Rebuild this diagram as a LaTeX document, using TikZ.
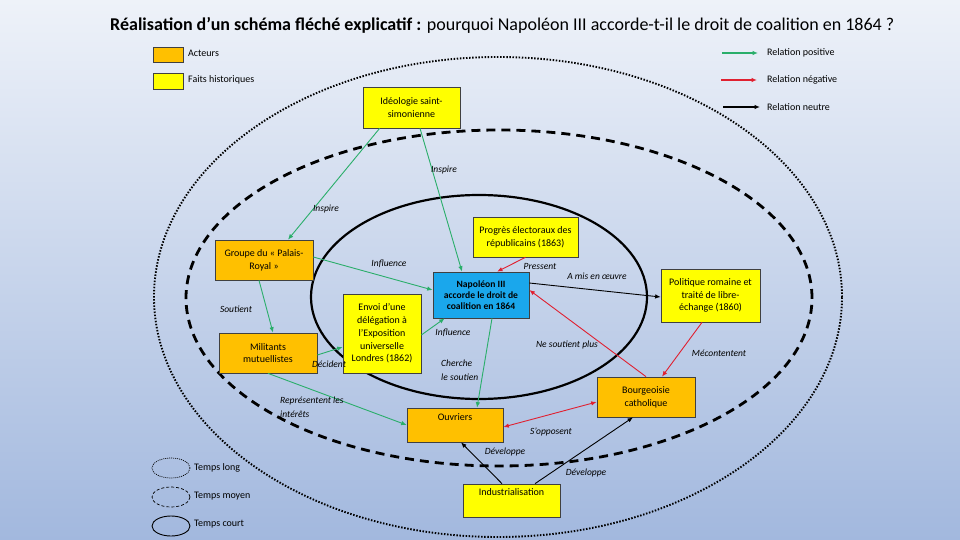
\documentclass[tikz,border=0pt]{standalone}
\usepackage{fontspec}
\setmainfont{Carlito}
\usetikzlibrary{arrows.meta,shapes.geometric}
\definecolor{bgtop}{HTML}{EEF2F9}
\definecolor{bgbot}{HTML}{A2B8DE}
\definecolor{orng}{HTML}{FFC000}
\definecolor{yel}{HTML}{FFFF00}
\definecolor{blu}{HTML}{1AA7EC}
\definecolor{grn}{HTML}{2AAE6A}
\definecolor{rd}{HTML}{E02030}
\begin{document}
\begin{tikzpicture}[x=1pt,y=-1pt,
  box/.style={draw=black!75, line width=0.7pt, align=center, inner sep=1pt,
    font=\fontsize{10}{12.8}\selectfont},
  actor/.style={box, fill=orng},
  fact/.style={box, fill=yel},
  lbl/.style={font=\fontsize{9.5}{14}\selectfont\itshape, inner sep=0pt},
  lgtxt/.style={font=\fontsize{10}{11}\selectfont, inner sep=0pt, anchor=west},
  tipend/.style={-{Latex[length=5.5pt,width=4.5pt]}},
  posarr/.style={draw=grn, line width=0.9pt, tipend},
  negarr/.style={draw=rd, line width=0.9pt, tipend},
  neuarr/.style={draw=black, line width=0.9pt, tipend},
]
\useasboundingbox (0,0) rectangle (960,540);
\shade[top color=bgtop, bottom color=bgbot] (0,0) rectangle (960,540);

% title
\node[anchor=west, inner sep=0pt, font=\fontsize{18}{20}\selectfont] (title) at (110,25)
  {\textbf{Réalisation d’un schéma fléché explicatif :} pourquoi Napoléon III accorde-t-il le droit de coalition en 1864 ?};

% time ellipses
\draw[line width=1.9pt, dash pattern=on 1.5pt off 1.6pt] (498,297) ellipse [x radius=344pt, y radius=240pt];
\draw[line width=2.8pt, dash pattern=on 9pt off 6pt] (499,298) ellipse [x radius=313pt, y radius=168pt];
\draw[line width=2.2pt] (479,297) ellipse [x radius=168pt, y radius=102pt];

% legend top-left
\node[actor, minimum width=30pt, minimum height=15pt] (lga) at (168,54.5) {};
\node[lgtxt] (lgat) at (188,53) {Acteurs};
\node[fact, minimum width=30pt, minimum height=16pt] (lgf) at (168,81) {};
\node[lgtxt] (lgft) at (188,80) {Faits historiques};

% legend top-right
\node[lgtxt] (lgp) at (767,53) {Relation positive};
\node[lgtxt] (lgn) at (767,80) {Relation négative};
\node[lgtxt] (lgz) at (767,107) {Relation neutre};
\coordinate (lp1) at (722,53); \coordinate (lp2) at (758,53);
\coordinate (ln1) at (721,80); \coordinate (ln2) at (757,80);
\coordinate (lz1) at (723,107); \coordinate (lz2) at (760,107);
\draw[posarr, line width=1.3pt] (lp1) -- (lp2);
\draw[negarr, line width=1.3pt] (ln1) -- (ln2);
\draw[neuarr, line width=1.3pt] (lz1) -- (lz2);

% legend bottom-left
\node[ellipse, draw, line width=0.7pt, dash pattern=on 1pt off 1pt, minimum width=38pt, minimum height=20pt, inner sep=0pt] (le1) at (171,468) {};
\node[ellipse, draw, line width=0.7pt, dash pattern=on 3pt off 2pt, minimum width=38pt, minimum height=20pt, inner sep=0pt] (le2) at (171,497) {};
\node[ellipse, draw, line width=0.9pt, minimum width=38pt, minimum height=20pt, inner sep=0pt] (le3) at (171,526) {};
\node[lgtxt] (le1t) at (194,468) {Temps long};
\node[lgtxt] (le2t) at (194,496) {Temps moyen};
\node[lgtxt] (le3t) at (194,524) {Temps court};

% main nodes
\node[fact, minimum width=97pt, minimum height=41pt] (ideo) at (411.5,107.5) {Idéologie saint-\\simonienne};
\node[actor, minimum width=98pt, minimum height=40pt] (pr) at (264,260) {Groupe du « Palais-\\Royal »};
\node[actor, minimum width=98pt, minimum height=40pt] (mil) at (268,353) {Militants\\mutuellistes};
\node[fact, minimum width=78pt, minimum height=79pt] (env) at (382,333.5) {Envoi d’une\\délégation à\\l’Exposition\\universelle\\Londres (1862)};
\node[fact, minimum width=105pt, minimum height=40pt] (prog) at (525.5,237) {Progrès électoraux des\\républicains (1863)};
\node[box, fill=blu, minimum width=96pt, minimum height=46pt, font=\fontsize{9.6}{10.8}\selectfont\bfseries] (nap) at (481,295) {Napoléon III\\accorde le droit de\\coalition en 1864};
\node[fact, minimum width=99pt, minimum height=53pt] (pol) at (710.5,295.5) {Politique romaine et\\traité de libre-\\échange (1860)};
\node[actor, minimum width=98pt, minimum height=40pt] (bour) at (646,397) {Bourgeoisie\\catholique};
\node[actor, minimum width=96pt, minimum height=34pt] (ouv) at (455,425) {};
\node[anchor=north, inner sep=0pt, font=\fontsize{10}{12}\selectfont] (ouvt) at ([yshift=-6pt]ouv.north) {Ouvriers};
\node[fact, minimum width=97pt, minimum height=33pt] (ind) at (511.5,500.5) {};
\node[anchor=north, inner sep=0pt, font=\fontsize{10}{12}\selectfont] (indt) at ([yshift=-5pt]ind.north) {Industrialisation};

% connectors
\draw[posarr] ([xshift=17pt]ideo.south west) -- ([xshift=24pt]pr.north);
\draw[posarr] ([xshift=8.5pt]ideo.south) -- ([xshift=-19pt]nap.north);
\draw[posarr] ([yshift=3pt]pr.east) -- ([yshift=5pt]nap.west);
\draw[posarr] ([xshift=-5pt]pr.south) -- ([xshift=5pt]mil.north);
\draw[posarr] ([yshift=-2pt]mil.east) -- ([yshift=-13.5pt]env.west);
\draw[posarr] ([yshift=-1.5pt]env.east) -- ([xshift=12pt]nap.south west);
\draw[posarr] ([xshift=11pt]nap.south) -- ([xshift=22pt]ouv.north);
\draw[posarr] (mil.south) -- (ouv.west);
\draw[negarr] (prog.south) -- ([xshift=16pt]nap.north);
\draw[negarr] (bour.north) -- ([yshift=5pt]nap.east);
\draw[negarr] ([xshift=-8.5pt]pol.south) -- ([xshift=16pt]bour.north);
\draw[negarr, {Latex[length=5.5pt,width=4.5pt]}-{Latex[length=5.5pt,width=4.5pt]}] ([yshift=-2pt]ouv.east) -- ([yshift=-5pt]bour.west);
\draw[neuarr] ([yshift=12pt]nap.east) -- ([yshift=-1.5pt]pol.west);
\draw[neuarr] ([xshift=-9.5pt]ind.north) -- ([xshift=6pt]ouv.south);
\draw[neuarr] ([xshift=23.5pt]ind.north) -- ([xshift=-13pt]bour.south);

% labels
\node[lbl] (l1) at (326,209) {Inspire};
\node[lbl] (l2) at (444,170) {Inspire};
\node[lbl] (l3) at (389,264) {Influence};
\node[lbl] (l4) at (236,309) {Soutient};
\node[lbl] (l5) at (329,364) {Décident};
\node[lbl] (l6) at (453,333) {Influence};
\node[lbl, align=left, anchor=west] (l7) at (441,370) {Cherche\\le soutien};
\node[lbl, align=left, anchor=west] (l8) at (280,407) {Représentent les\\intérêts};
\node[lbl] (l9) at (540,266) {Pressent};
\node[lbl] (l10) at (597,276) {A mis en œuvre};
\node[lbl] (l11) at (567,345) {Ne soutient plus};
\node[lbl] (l12) at (719,353) {Mécontentent};
\node[lbl] (l13) at (551,432) {S’opposent};
\node[lbl] (l14) at (505,452) {Développe};
\node[lbl] (l15) at (586,473) {Développe};
\end{tikzpicture}
\end{document}
